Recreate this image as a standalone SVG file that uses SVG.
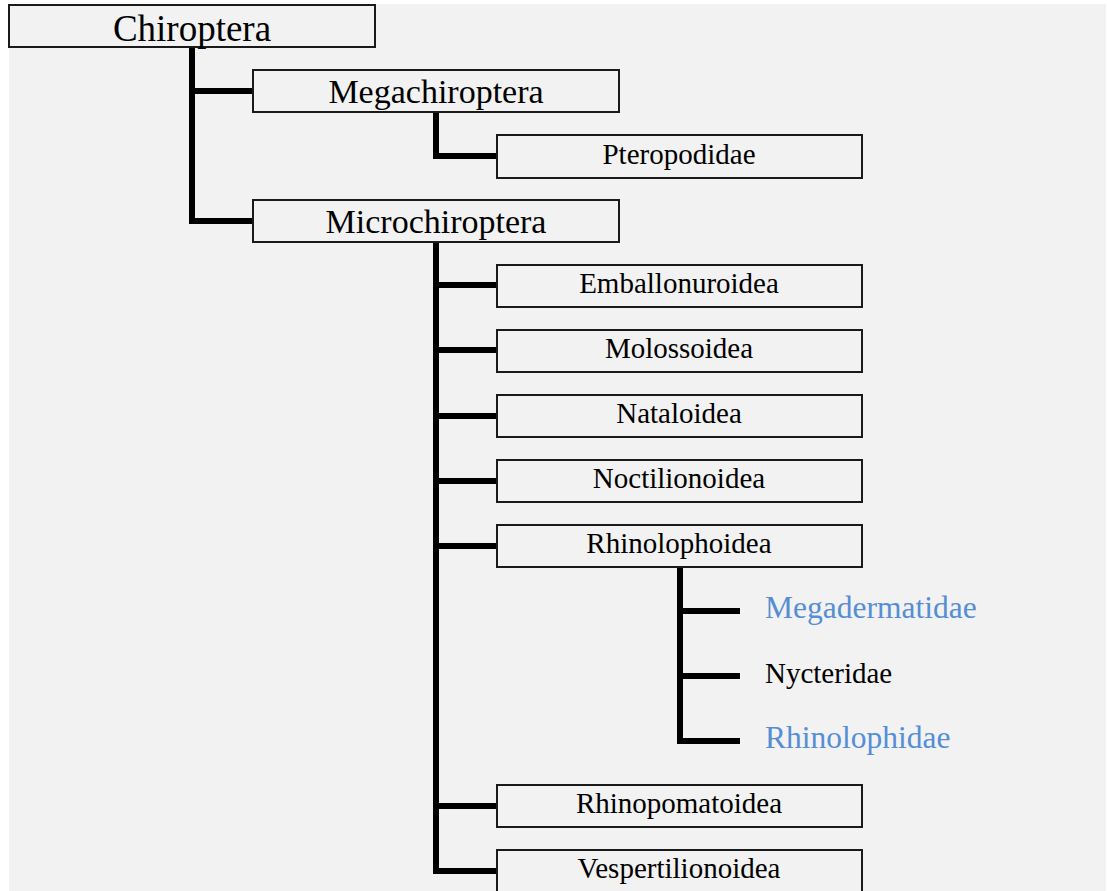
<svg xmlns="http://www.w3.org/2000/svg" width="1107" height="891" viewBox="0 0 1107 891">
<style>
.box{fill:#f2f2f2;stroke:#1a1a1a;stroke-width:2}
.t{font-family:'Liberation Serif','Tinos','Times New Roman','Noto Serif','DejaVu Serif',serif;text-anchor:middle;fill:#000}
.l{font-family:'Liberation Serif','Tinos','Times New Roman','Noto Serif','DejaVu Serif',serif;fill:#000}
.blue{fill:#558ed5}
.c{stroke:#000;stroke-width:6;fill:none;stroke-linecap:butt;stroke-linejoin:miter}
</style>
<rect x="0" y="0" width="1107" height="891" fill="#ffffff"/>
<rect x="9" y="4" width="1097" height="887" fill="#f2f2f2"/>
<g id="connectors">
<path class="c" d="M192 48 V221 H253 M192 91 H253"/>
<path class="c" d="M436 113 V156 H497"/>
<path class="c" d="M436 243 V871 H497 M436 285 H497 M436 350 H497 M436 416 H497 M436 481 H497 M436 546 H497 M436 806 H497"/>
<path class="c" d="M680 568 V741 H740 M680 611 H740 M680 676 H740"/>
</g>
<g id="chiroptera"><rect class="box" x="9" y="5" width="366" height="42"/><text class="t" x="192" y="41" font-size="37">Chiroptera</text></g>
<g id="megachiroptera"><rect class="box" x="253" y="70" width="366" height="42"/><text class="t" x="436" y="103" font-size="34">Megachiroptera</text></g>
<g id="pteropodidae"><rect class="box" x="497" y="135" width="365" height="43"/><text class="t" x="679" y="164" font-size="29">Pteropodidae</text></g>
<g id="microchiroptera"><rect class="box" x="253" y="200" width="366" height="42"/><text class="t" x="436" y="233" font-size="34">Microchiroptera</text></g>
<g id="emballonuroidea"><rect class="box" x="497" y="265" width="365" height="42"/><text class="t" x="679" y="293" font-size="29">Emballonuroidea</text></g>
<g id="molossoidea"><rect class="box" x="497" y="330" width="365" height="42"/><text class="t" x="679" y="358" font-size="29">Molossoidea</text></g>
<g id="nataloidea"><rect class="box" x="497" y="395" width="365" height="42"/><text class="t" x="679" y="423" font-size="29">Nataloidea</text></g>
<g id="noctilionoidea"><rect class="box" x="497" y="460" width="365" height="42"/><text class="t" x="679" y="488" font-size="29">Noctilionoidea</text></g>
<g id="rhinolophoidea"><rect class="box" x="497" y="525" width="365" height="42"/><text class="t" x="679" y="553" font-size="29">Rhinolophoidea</text></g>
<g id="megadermatidae"><text class="l blue" x="765" y="618" font-size="31.5">Megadermatidae</text></g>
<g id="nycteridae"><text class="l" x="765" y="683" font-size="29">Nycteridae</text></g>
<g id="rhinolophidae"><text class="l blue" x="765" y="748" font-size="31.5">Rhinolophidae</text></g>
<g id="rhinopomatoidea"><rect class="box" x="497" y="785" width="365" height="42"/><text class="t" x="679" y="813" font-size="29">Rhinopomatoidea</text></g>
<g id="vespertilionoidea"><rect class="box" x="497" y="850" width="365" height="44"/><text class="t" x="679" y="878" font-size="29">Vespertilionoidea</text></g>
</svg>
